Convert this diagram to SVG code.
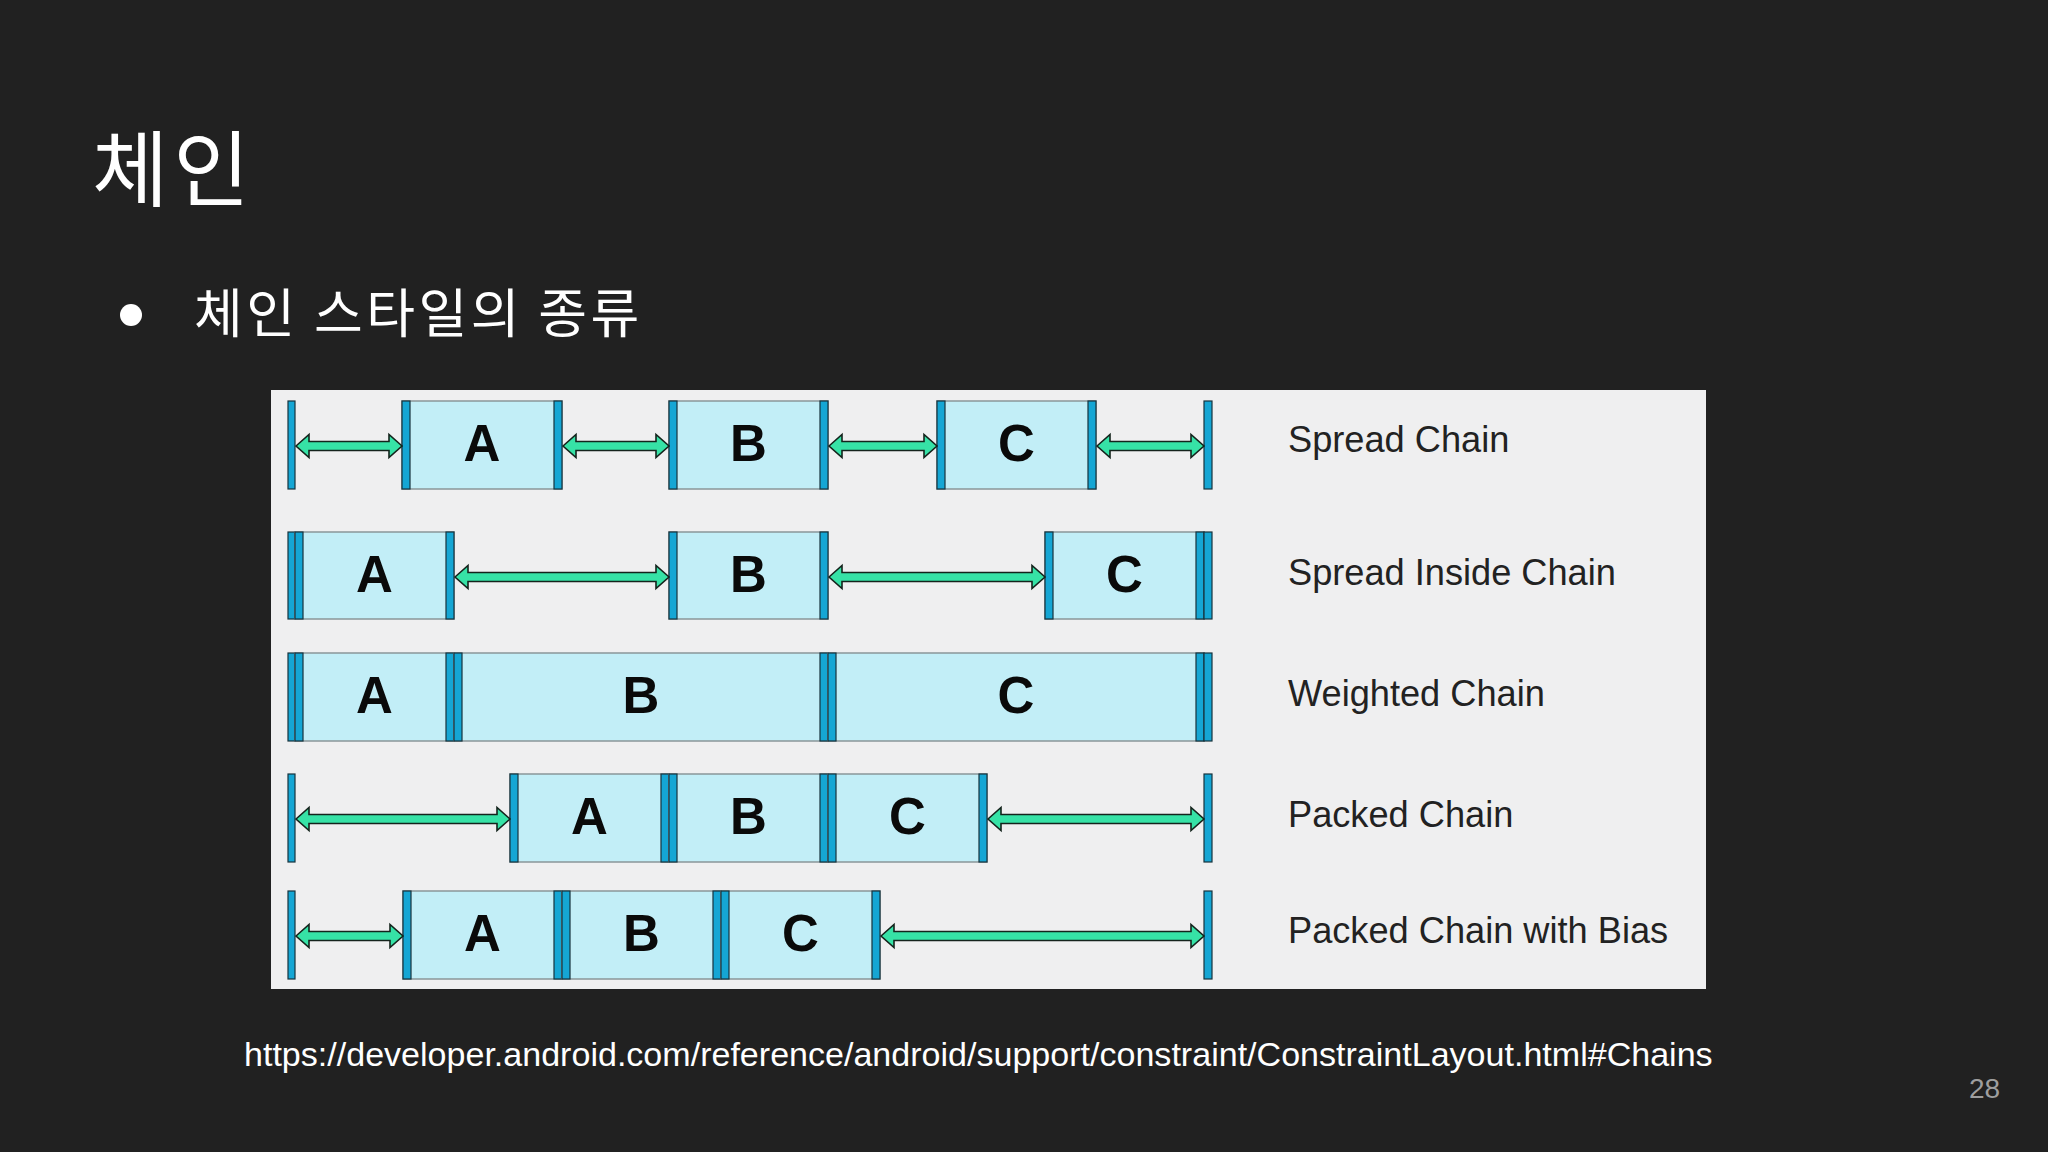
<svg xmlns="http://www.w3.org/2000/svg" width="2048" height="1152" viewBox="0 0 2048 1152">
<style>
.bg{fill:#212121}
.panel{fill:#efeff0}
.box{fill:#c2eef7;stroke:#8a9699;stroke-width:1.5}
.bar{fill:#15a6d4;stroke:#17333d;stroke-width:1.2}
.arrow{fill:#36e2a6;stroke:#14231c;stroke-width:1.6;stroke-linejoin:miter}
.letter{font-family:"Liberation Sans",Arial,sans-serif;font-weight:bold;font-size:51px;text-anchor:middle;fill:#0a0a0a}
.label{font-family:"Liberation Sans",Arial,sans-serif;font-size:36.2px;fill:#222222}
.title{font-family:"Noto Sans CJK KR","Noto Sans",sans-serif;font-size:83px;letter-spacing:5px;fill:#ffffff}
.bullet{font-family:"Noto Sans CJK KR","Noto Sans",sans-serif;font-size:53px;letter-spacing:3.5px;fill:#ffffff}
.url{font-family:"Liberation Sans",Arial,sans-serif;font-size:34.05px;fill:#ffffff}
.page{font-family:"Liberation Sans",Arial,sans-serif;font-size:28px;fill:#9e9e9e}
</style>
<rect class="bg" x="0" y="0" width="2048" height="1152"/>
<text class="title" x="92" y="200">체인</text>
<circle cx="131" cy="315" r="11" fill="#ffffff"/>
<text class="bullet" x="194" y="333">체인 스타일의 종류</text>
<rect class="panel" x="271" y="390" width="1435" height="599"/>

<g id="row1">
  <g id="r1-wallL"><rect class="bar" x="288" y="401" width="7" height="88"/></g>
  <g id="r1-A"><rect class="box" x="402" y="401" width="160" height="88"/><rect class="bar" x="402" y="401" width="8" height="88"/><rect class="bar" x="554" y="401" width="8" height="88"/><text class="letter" x="482" y="461">A</text></g>
  <g id="r1-B"><rect class="box" x="669" y="401" width="159" height="88"/><rect class="bar" x="669" y="401" width="8" height="88"/><rect class="bar" x="820" y="401" width="8" height="88"/><text class="letter" x="748.5" y="461">B</text></g>
  <g id="r1-C"><rect class="box" x="937" y="401" width="159" height="88"/><rect class="bar" x="937" y="401" width="8" height="88"/><rect class="bar" x="1088" y="401" width="8" height="88"/><text class="letter" x="1016.5" y="461">C</text></g>
  <g id="r1-wallR"><rect class="bar" x="1204" y="401" width="8" height="88"/></g>
  <g id="r1-label"><text class="label" x="1288" y="452">Spread Chain</text></g>
</g>

<g id="row2">
  <g id="r2-wallL"><rect class="bar" x="288" y="532" width="7" height="87"/></g>
  <g id="r2-A"><rect class="box" x="295" y="532" width="159" height="87"/><rect class="bar" x="295" y="532" width="8" height="87"/><rect class="bar" x="446" y="532" width="8" height="87"/><text class="letter" x="374.5" y="592">A</text></g>
  <g id="r2-B"><rect class="box" x="669" y="532" width="159" height="87"/><rect class="bar" x="669" y="532" width="8" height="87"/><rect class="bar" x="820" y="532" width="8" height="87"/><text class="letter" x="748.5" y="592">B</text></g>
  <g id="r2-C"><rect class="box" x="1045" y="532" width="159" height="87"/><rect class="bar" x="1045" y="532" width="8" height="87"/><rect class="bar" x="1196" y="532" width="8" height="87"/><text class="letter" x="1124.5" y="592">C</text></g>
  <g id="r2-wallR"><rect class="bar" x="1204" y="532" width="8" height="87"/></g>
  <g id="r2-label"><text class="label" x="1288" y="585">Spread Inside Chain</text></g>
</g>

<g id="row3">
  <g id="r3-wallL"><rect class="bar" x="288" y="653" width="7" height="88"/></g>
  <g id="r3-A"><rect class="box" x="295" y="653" width="159" height="88"/><rect class="bar" x="295" y="653" width="8" height="88"/><rect class="bar" x="446" y="653" width="8" height="88"/><text class="letter" x="374.5" y="713">A</text></g>
  <g id="r3-B"><rect class="box" x="454" y="653" width="374" height="88"/><rect class="bar" x="454" y="653" width="8" height="88"/><rect class="bar" x="820" y="653" width="8" height="88"/><text class="letter" x="641" y="713">B</text></g>
  <g id="r3-C"><rect class="box" x="828" y="653" width="376" height="88"/><rect class="bar" x="828" y="653" width="8" height="88"/><rect class="bar" x="1196" y="653" width="8" height="88"/><text class="letter" x="1016" y="713">C</text></g>
  <g id="r3-wallR"><rect class="bar" x="1204" y="653" width="8" height="88"/></g>
  <g id="r3-label"><text class="label" x="1288" y="706">Weighted Chain</text></g>
</g>

<g id="row4">
  <g id="r4-wallL"><rect class="bar" x="288" y="774" width="7" height="88"/></g>
  <g id="r4-A"><rect class="box" x="510" y="774" width="159" height="88"/><rect class="bar" x="510" y="774" width="8" height="88"/><rect class="bar" x="661" y="774" width="8" height="88"/><text class="letter" x="589.5" y="834">A</text></g>
  <g id="r4-B"><rect class="box" x="669" y="774" width="159" height="88"/><rect class="bar" x="669" y="774" width="8" height="88"/><rect class="bar" x="820" y="774" width="8" height="88"/><text class="letter" x="748.5" y="834">B</text></g>
  <g id="r4-C"><rect class="box" x="828" y="774" width="159" height="88"/><rect class="bar" x="828" y="774" width="8" height="88"/><rect class="bar" x="979" y="774" width="8" height="88"/><text class="letter" x="907.5" y="834">C</text></g>
  <g id="r4-wallR"><rect class="bar" x="1204" y="774" width="8" height="88"/></g>
  <g id="r4-label"><text class="label" x="1288" y="827">Packed Chain</text></g>
</g>

<g id="row5">
  <g id="r5-wallL"><rect class="bar" x="288" y="891" width="7" height="88"/></g>
  <g id="r5-A"><rect class="box" x="403" y="891" width="159" height="88"/><rect class="bar" x="403" y="891" width="8" height="88"/><rect class="bar" x="554" y="891" width="8" height="88"/><text class="letter" x="482.5" y="951">A</text></g>
  <g id="r5-B"><rect class="box" x="562" y="891" width="159" height="88"/><rect class="bar" x="562" y="891" width="8" height="88"/><rect class="bar" x="713" y="891" width="8" height="88"/><text class="letter" x="641.5" y="951">B</text></g>
  <g id="r5-C"><rect class="box" x="721" y="891" width="159" height="88"/><rect class="bar" x="721" y="891" width="8" height="88"/><rect class="bar" x="872" y="891" width="8" height="88"/><text class="letter" x="800.5" y="951">C</text></g>
  <g id="r5-wallR"><rect class="bar" x="1204" y="891" width="8" height="88"/></g>
  <g id="r5-label"><text class="label" x="1288" y="943">Packed Chain with Bias</text></g>
</g>

<g id="connectors">
  <polygon class="arrow" points="296,446 309,434.5 309,441.5 389,441.5 389,434.5 402,446 389,457.5 389,450.5 309,450.5 309,457.5"/>
  <polygon class="arrow" points="563,446 576,434.5 576,441.5 656,441.5 656,434.5 669,446 656,457.5 656,450.5 576,450.5 576,457.5"/>
  <polygon class="arrow" points="829,446 842,434.5 842,441.5 924,441.5 924,434.5 937,446 924,457.5 924,450.5 842,450.5 842,457.5"/>
  <polygon class="arrow" points="1097,446 1110,434.5 1110,441.5 1191,441.5 1191,434.5 1204,446 1191,457.5 1191,450.5 1110,450.5 1110,457.5"/>
  <polygon class="arrow" points="455,577 468,565.5 468,572.5 656,572.5 656,565.5 669,577 656,588.5 656,581.5 468,581.5 468,588.5"/>
  <polygon class="arrow" points="829,577 842,565.5 842,572.5 1032,572.5 1032,565.5 1045,577 1032,588.5 1032,581.5 842,581.5 842,588.5"/>
  <polygon class="arrow" points="296,819 309,807.5 309,814.5 497,814.5 497,807.5 510,819 497,830.5 497,823.5 309,823.5 309,830.5"/>
  <polygon class="arrow" points="988,819 1001,807.5 1001,814.5 1191,814.5 1191,807.5 1204,819 1191,830.5 1191,823.5 1001,823.5 1001,830.5"/>
  <polygon class="arrow" points="296,936 309,924.5 309,931.5 390,931.5 390,924.5 403,936 390,947.5 390,940.5 309,940.5 309,947.5"/>
  <polygon class="arrow" points="881,936 894,924.5 894,931.5 1191,931.5 1191,924.5 1204,936 1191,947.5 1191,940.5 894,940.5 894,947.5"/>
</g>

<text class="url" x="244" y="1066">https://developer.android.com/reference/android/support/constraint/ConstraintLayout.html#Chains</text>
<text class="page" x="1969" y="1098">28</text>
</svg>
